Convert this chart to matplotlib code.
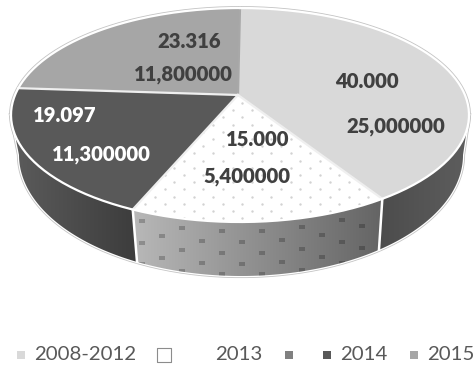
import matplotlib
matplotlib.use("Agg")
import matplotlib.pyplot as plt
import numpy as np
from matplotlib.patches import Polygon

plt.rcParams['font.family'] = ['Lato', 'DejaVu Sans']

categories = ["2008-2012", "2013", "2014", "2015"]
values = [40.000, 15.000, 19.097, 23.316]
first_labels = ["40.000", "15.000", "19.097", "23.316"]
second_labels = ["25,000000", "5,400000", "11,300000", "11,800000"]

top_colors = ["#d9d9d9", "#ffffff", "#595959", "#a6a6a6"]
wall_colors = [("#4c4c4c", "#5e5e5e"), ("#b8b8b8", "#646464"), ("#5c5c5c", "#3c3c3c")]
label_colors = ["#404040", "#404040", "#ffffff", "#404040"]

# pixel positions of the data labels
first_pos = [(367, 82), (258, 140), (65, 116), (189, 42)]
second_pos = [(396, 127), (247, 177), (101, 154), (183, 74)]

# top face and floor of the disc
TOP = dict(cx=240.0, cy=115.0, rx=229.0, ry=107.0)
BOTTOM = dict(cx=241.0, cy=155.0, rx=222.0, ry=121.0)
TILT = 0.187


def project(angle, e):
    # clockwise from 12 o'clock, perspective keeps the rim an ellipse
    u, v = np.sin(angle), np.cos(angle)
    den = 1 + TILT*v
    vp = (v + TILT)/den
    up = u*np.sqrt(1 - TILT**2)/den
    return e["cx"] + e["rx"]*up, e["cy"] - e["ry"]*vp


def arc(a0, a1, e, n=120):
    x, y = project(np.linspace(a0, a1, n), e)
    return np.column_stack([x, y])


def gradient_fill(ax, poly, c0, c1, zorder):
    # horizontal gradient clipped to a polygon
    x0, x1 = poly[:, 0].min(), poly[:, 0].max()
    y0, y1 = poly[:, 1].min(), poly[:, 1].max()
    rgb0 = np.array(matplotlib.colors.to_rgb(c0))
    rgb1 = np.array(matplotlib.colors.to_rgb(c1))
    t = np.linspace(0, 1, 200)[None, :, None]
    img = ax.imshow(rgb0 + (rgb1 - rgb0)*t, extent=(x0, x1, y1, y0),
                    aspect='auto', zorder=zorder, interpolation='bilinear')
    clip = Polygon(poly, transform=ax.transData, facecolor='none', edgecolor='none')
    ax.add_patch(clip)
    img.set_clip_path(clip)


fig = plt.figure(figsize=(4.74, 3.67), dpi=100)
ax = fig.add_axes([0, 0, 1, 1])

shares = np.array(values)/np.sum(values)
edges = np.concatenate([[0], np.cumsum(shares)])*2*np.pi
apex = np.array([TOP["cx"] - 2, TOP["cy"] - TOP["ry"]*TILT])
right_a = np.arccos(-TILT)
left_a = 2*np.pi - right_a

# halo round the outer edge
outline = arc(0, 2*np.pi, TOP, 300)
ax.plot(outline[:, 0], outline[:, 1], color="#c4c4c4", lw=2.8, zorder=1)
floor = np.vstack([project(right_a, TOP), arc(right_a, left_a, BOTTOM, 200), project(left_a, TOP)])
ax.plot(floor[:, 0], floor[:, 1], color="#c4c4c4", lw=3.0, zorder=1)
ax.plot(floor[:, 0], floor[:, 1], color="#ffffff", lw=1.8, zorder=1.1)

# side walls, only the part facing the viewer
wall_from = [right_a, edges[1], edges[2]]
wall_to = [edges[1], edges[2], left_a]
for i in range(3):
    poly = np.vstack([arc(wall_from[i], wall_to[i], TOP), arc(wall_to[i], wall_from[i], BOTTOM)])
    gradient_fill(ax, poly, wall_colors[i][0], wall_colors[i][1], 2)

# dash marks on the dotted wall, they run parallel to the rim
wall_poly = np.vstack([arc(edges[1], edges[2], TOP), arc(edges[2], edges[1], BOTTOM)])
wall_clip = Polygon(wall_poly, transform=ax.transData, facecolor='none', edgecolor='none')
ax.add_patch(wall_clip)
rim_x, rim_y = arc(edges[2], edges[1], TOP, 300).T
gx, gy = [], []
for k, x in enumerate(np.arange(142, 380, 20.0)):
    y_rim = np.interp(x, rim_x, rim_y)
    offsets = [9, 31, 52] if k % 2 == 0 else [20, 42]
    for off in offsets:
        gx.append(x)
        gy.append(y_rim + off)
marks = ax.scatter(gx, gy, marker='_', s=20, color="#000000", alpha=0.22, lw=1.7, zorder=2.5)
marks.set_clip_path(wall_clip)

# wall separators
for a in edges[1:3]:
    xt, yt = project(a, TOP)
    xb, yb = project(a, BOTTOM)
    ax.plot([xt, xb], [yt, yb], color="#ffffff", lw=1.8, zorder=3)

# top faces
for i in range(len(values)):
    poly = np.vstack([apex, arc(edges[i], edges[i+1], TOP)])
    ax.add_patch(Polygon(poly, closed=True, facecolor=top_colors[i], edgecolor="none", zorder=4))

# dots on the light slice
top_poly = Polygon(np.vstack([apex, arc(edges[1], edges[2], TOP)]), transform=ax.transData,
                   facecolor='none', edgecolor='none')
ax.add_patch(top_poly)
dx, dy = [], []
for r in range(-16, 3):
    for k in range(-3, 14):
        dx.append(155 + 19.4*k + 9.7*(r % 2))
        dy.append(211 + 7.2*r)
dots = ax.scatter(dx, dy, s=3, color="#d2d2d2", lw=0, zorder=4.5)
dots.set_clip_path(top_poly)

# slice borders and rim
for i, a in enumerate(edges[:-1]):
    xt, yt = project(a, TOP)
    col = "#a8a8a8" if i == 0 else "#efefef"
    ax.plot([apex[0], xt], [apex[1], yt], color=col, lw=1.6, zorder=5)
rim = arc(0, 2*np.pi, TOP, 300)
ax.plot(rim[:, 0], rim[:, 1], color="#ffffff", lw=1.6, zorder=5)

# data labels
for i in range(len(values)):
    ax.text(first_pos[i][0], first_pos[i][1], first_labels[i], color=label_colors[i],
            fontsize=14.6, fontweight='heavy', ha='center', va='center', zorder=6)
    ax.text(second_pos[i][0], second_pos[i][1], second_labels[i], color=label_colors[i],
            fontsize=14.6, fontweight='heavy', ha='center', va='center', zorder=6)

# legend is laid out by hand because of the odd gaps
legend_text_x = [34, 215, 340, 427]
for name, x in zip(categories, legend_text_x):
    ax.text(x, 355, name, color="#595959", fontsize=14.7, ha='left', va='center', zorder=6)
ax.scatter([21], [355], marker='s', s=36, color=top_colors[0], lw=0, zorder=6)
ax.scatter([164], [355], marker='s', s=90, facecolor=top_colors[1], edgecolor="#8c8c8c", lw=0.8, zorder=6)
ax.scatter([289], [355], marker='s', s=36, color="#808080", lw=0, zorder=6)
ax.scatter([327], [355], marker='s', s=36, color=top_colors[2], lw=0, zorder=6)
ax.scatter([414], [355], marker='s', s=36, color=top_colors[3], lw=0, zorder=6)

ax.set_xlim(0, 474)
ax.set_ylim(367, 0)
ax.axis('off')

fig.savefig("out.png", dpi=100, facecolor='white')
